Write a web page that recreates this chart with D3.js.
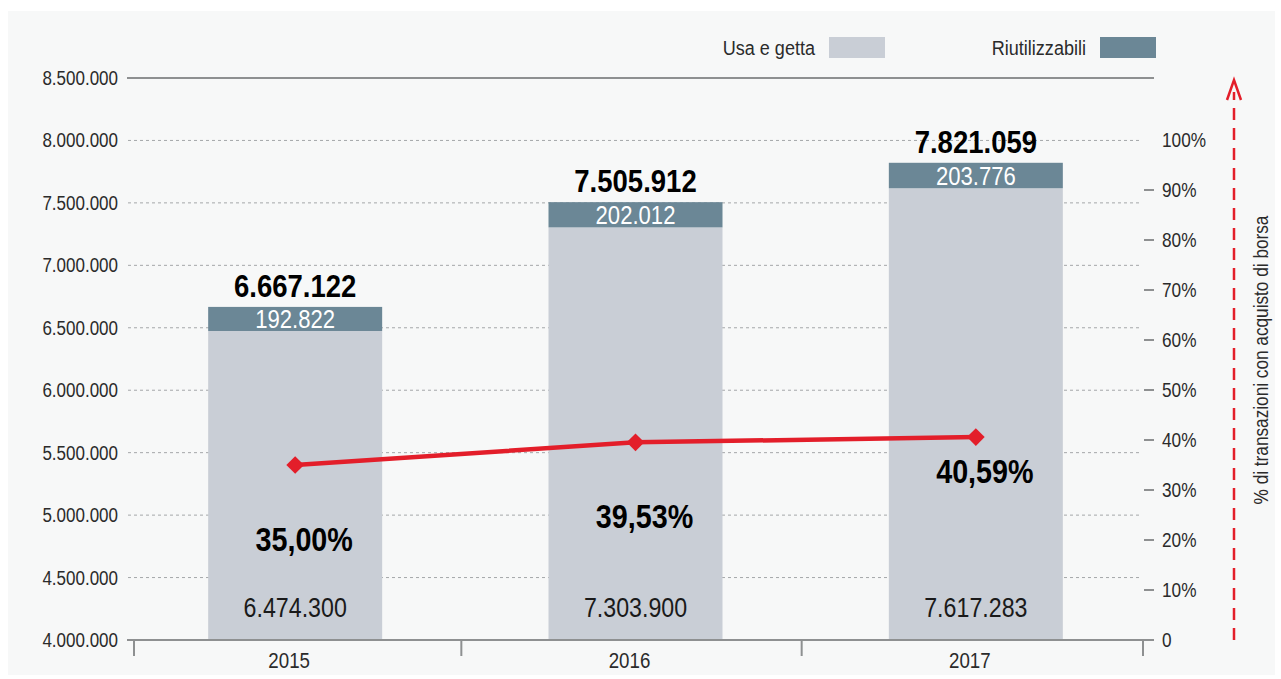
<!DOCTYPE html>
<html>
<head>
<meta charset="utf-8">
<script src="https://cdn.jsdelivr.net/npm/d3@7"></script>
<style>
  body { margin: 0; background: #ffffff; }
  svg text { font-family: "Liberation Sans", Arial, sans-serif; }
</style>
</head>
<body>
<svg id="chart" width="1281" height="679"></svg>
<script>
// data
const years = ["2015", "2016", "2017"];
const usaEGetta = [6474300, 7303900, 7617283];
const riutilizzabili = [192822, 202012, 203776];
const percTransazioni = [35.00, 39.53, 40.59];
const leftTicks = [4000000, 4500000, 5000000, 5500000, 6000000, 6500000, 7000000, 7500000, 8000000, 8500000];
const rightTicks = [0, 10, 20, 30, 40, 50, 60, 70, 80, 90, 100];

const grey = "#c9ced6", slate = "#6b8796", red = "#e31e2a";

const fmtIt = d3.formatLocale({ decimal: ",", thousands: ".", grouping: [3], currency: ["€", ""] });
const fmtNum = fmtIt.format(",d");
const fmtPct = fmtIt.format(".2f");

// no condensed font installed, so squeeze the text horizontally
function place(xf, yf, sx = 0.82) {
    return (d, i) => `translate(${typeof xf === "function" ? xf(d, i) : xf},${typeof yf === "function" ? yf(d, i) : yf}) scale(${sx},1)`;
}

let svg = d3.select("#chart");

// panel
svg.append("rect").attr("x", 8).attr("y", 11).attr("width", 1267).attr("height", 664).attr("fill", "#f7f8f8");

let x = d3.scaleBand().domain(years).range([125, 1146]);
let y = d3.scaleLinear().domain([4000000, 8500000]).range([640, 78]);
let yr = d3.scaleLinear().domain([0, 100]).range([640, 140]);
let barW = 174;
let cx = d => x(d.year) + x.bandwidth() / 2;

// gridlines
svg.append("g").selectAll("line")
    .data(leftTicks.filter(d => d > 4000000 && d < 8500000))
    .join("line")
    .attr("x1", 128).attr("x2", 1142)
    .attr("y1", d => y(d)).attr("y2", d => y(d))
    .attr("stroke", "#a4a7a9").attr("stroke-width", 1).attr("stroke-dasharray", "3,3");

// top line
svg.append("line").attr("x1", 127).attr("x2", 1154).attr("y1", y(8500000)).attr("y2", y(8500000))
    .attr("stroke", "#8e9091").attr("stroke-width", 2);

// left axis labels
svg.append("g").selectAll("text")
    .data(leftTicks)
    .join("text")
    .attr("transform", place(118, d => y(d) + 7, 0.81))
    .attr("text-anchor", "end").attr("font-size", 21).attr("fill", "#2b2b2b")
    .text(d => fmtNum(d));

// bars
let data = years.map((yy, i) => ({ year: yy, a: usaEGetta[i], b: riutilizzabili[i], p: percTransazioni[i] }));
let bars = svg.append("g");
bars.selectAll(".a").data(data).join("rect")
    .attr("x", d => cx(d) - barW / 2).attr("width", barW)
    .attr("y", d => y(d.a)).attr("height", d => y(4000000) - y(d.a))
    .attr("fill", grey);
bars.selectAll(".b").data(data).join("rect")
    .attr("x", d => cx(d) - barW / 2).attr("width", barW)
    .attr("y", d => y(d.a + d.b)).attr("height", d => y(d.a) - y(d.a + d.b))
    .attr("fill", slate);

// bar labels
bars.selectAll(".lb").data(data).join("text")
    .attr("transform", place(cx, d => (y(d.a) + y(d.a + d.b)) / 2 + 9, 0.85))
    .attr("text-anchor", "middle").attr("font-size", 26).attr("fill", "#ffffff")
    .text(d => fmtNum(d.b));
bars.selectAll(".lt").data(data).join("text")
    .attr("transform", place(cx, d => y(d.a + d.b) - 10, 0.86))
    .attr("text-anchor", "middle").attr("font-size", 32).attr("font-weight", "bold").attr("fill", "#000")
    .text(d => fmtNum(d.a + d.b));
bars.selectAll(".la").data(data).join("text")
    .attr("transform", place(cx, 617, 0.86))
    .attr("text-anchor", "middle").attr("font-size", 27).attr("fill", "#1a1a1a")
    .text(d => fmtNum(d.a));

// x axis
svg.append("line").attr("x1", 127).attr("x2", 1144).attr("y1", 640).attr("y2", 640)
    .attr("stroke", "#8e9091").attr("stroke-width", 2);
let xTicks = [x.range()[0] + 9, x("2016") - 4, x("2017") - 4, 1143];
svg.append("g").selectAll("line").data(xTicks).join("line")
    .attr("x1", d => d).attr("x2", d => d).attr("y1", 640).attr("y2", 656)
    .attr("stroke", "#8e9091").attr("stroke-width", 2);
svg.append("g").selectAll("text").data(years).join("text")
    .attr("transform", place(d => x(d) + x.bandwidth() / 2 - 6, 668, 0.85))
    .attr("text-anchor", "middle").attr("font-size", 22).attr("fill", "#2b2b2b")
    .text(d => d);

// right axis
svg.append("g").selectAll("line").data(rightTicks.filter(d => d > 0 && d < 100)).join("line")
    .attr("x1", 1144).attr("x2", 1154).attr("y1", d => yr(d)).attr("y2", d => yr(d))
    .attr("stroke", "#8e9091").attr("stroke-width", 2);
svg.append("line").attr("x1", 1142).attr("x2", 1154).attr("y1", 640).attr("y2", 640)
    .attr("stroke", "#8e9091").attr("stroke-width", 2);
svg.append("g").selectAll("text").data(rightTicks).join("text")
    .attr("transform", place(1162, d => yr(d) + 7, 0.82))
    .attr("font-size", 21).attr("fill", "#2b2b2b")
    .text(d => d === 0 ? "0" : d + "%");

// red dashed arrow
svg.append("line").attr("x1", 1234).attr("x2", 1234).attr("y1", 640).attr("y2", 92)
    .attr("stroke", red).attr("stroke-width", 2.5).attr("stroke-dasharray", "12,8");
svg.append("path").attr("d", "M1227,100 L1234,80 L1241,100")
    .attr("fill", "none").attr("stroke", red).attr("stroke-width", 2.5);
svg.append("text")
    .attr("transform", "translate(1268,360) rotate(-90) scale(0.82,1)")
    .attr("text-anchor", "middle").attr("font-size", 21).attr("fill", "#2b2b2b")
    .text("% di transazioni con acquisto di borsa");

// percentage line
svg.append("path").datum(data)
    .attr("d", d3.line().x(cx).y(d => yr(d.p)))
    .attr("fill", "none").attr("stroke", red).attr("stroke-width", 4.5);
svg.append("g").selectAll("path").data(data).join("path")
    .attr("transform", d => `translate(${cx(d)},${yr(d.p)})`)
    .attr("d", d3.symbol(d3.symbolDiamond2, 200))
    .attr("fill", red);
let pctOffsets = [75, 75, 35];
svg.append("g").selectAll("text").data(data).join("text")
    .attr("transform", place(d => cx(d) + 9, (d, i) => yr(d.p) + pctOffsets[i] + 11, 0.87))
    .attr("text-anchor", "middle").attr("font-size", 33).attr("font-weight", "bold").attr("fill", "#000")
    .text(d => fmtPct(d.p) + "%");

// legend
let legend = [["Usa e getta", grey, 829], ["Riutilizzabili", slate, 1100]];
let lg = svg.append("g").selectAll("g").data(legend).join("g");
lg.append("rect").attr("x", d => d[2]).attr("y", 37).attr("width", 56).attr("height", 21).attr("fill", d => d[1]);
lg.append("text").attr("transform", place(d => d[2] - 14, 55, 0.86))
    .attr("text-anchor", "end").attr("font-size", 21).attr("fill", "#2b2b2b")
    .text(d => d[0]);
</script>
</body>
</html>
